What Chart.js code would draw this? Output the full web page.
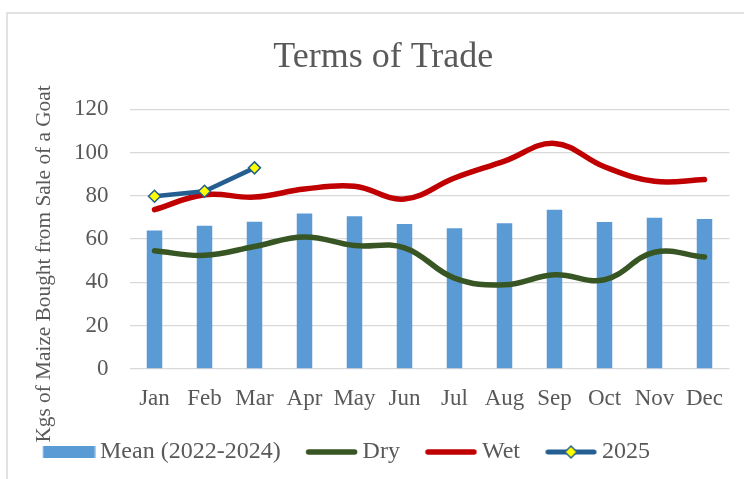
<!DOCTYPE html>
<html>
<head>
<meta charset="utf-8">
<script src="https://cdn.jsdelivr.net/npm/chart.js@4.4.1/dist/chart.umd.min.js"></script>
<style>
  html, body { margin: 0; padding: 0; background: #fff; }
  #wrap { width: 744px; height: 479px; }
</style>
</head>
<body>
<div id="wrap"><canvas id="tot" width="744" height="479"></canvas></div>
<script>
const months = ['Jan', 'Feb', 'Mar', 'Apr', 'May', 'Jun', 'Jul', 'Aug', 'Sep', 'Oct', 'Nov', 'Dec'];
const meanValues = [64, 66.2, 68, 71.8, 70.5, 67, 65, 67.3, 73.6, 67.9, 69.9, 69.3];
const dryValues = [54.6, 52.5, 56.6, 61, 57, 56, 42, 38.9, 43.5, 41.2, 53.9, 51.7];
const wetValues = [73.6, 80.5, 79.4, 83.1, 84.4, 78.5, 88.2, 96, 104.2, 93.4, 86.7, 87.5];
const values2025 = [79.8, 82.1, 92.9, null, null, null, null, null, null, null, null, null];
const yTicks = [0, 20, 40, 60, 80, 100, 120];

const COLORS = {
    mean: '#5B9BD5',
    dry: '#375623',
    wet: '#C00000',
    y2025: '#255E91',
    marker: '#FFFF00',
    grid: '#D9D9D9',
    text: '#595959',
};
const FONT = "'Liberation Serif', 'Times New Roman', serif";

// legend symbols as little canvases (symbol sits in the right part of the image)
function legendSymbol(kind, color) {
    const c = document.createElement('canvas');
    c.width = 70;
    c.height = 16;
    const g = c.getContext('2d');
    const x0 = 17.5, x1 = 69.5, cy = 8;
    if (kind === 'box') {
        g.fillStyle = color;
        g.fillRect(x0, cy - 6, x1 - x0, 12);
    } else {
        g.strokeStyle = color;
        g.lineCap = 'round';
        g.lineWidth = kind === 'marker' ? 5 : 5.5;
        g.beginPath();
        g.moveTo(x0 + 3, cy);
        g.lineTo(x1 - 3, cy);
        g.stroke();
        if (kind === 'marker') {
            const mx = (x0 + x1) / 2, r = 6;
            g.beginPath();
            g.moveTo(mx - r, cy);
            g.lineTo(mx, cy - r);
            g.lineTo(mx + r, cy);
            g.lineTo(mx, cy + r);
            g.closePath();
            g.fillStyle = COLORS.marker;
            g.fill();
            g.lineWidth = 1.5;
            g.stroke();
        }
    }
    return c;
}

const legendItems = [
    { text: 'Mean (2022-2024)', symbol: legendSymbol('box', COLORS.mean), datasetIndex: 0 },
    { text: 'Dry', symbol: legendSymbol('line', COLORS.dry), datasetIndex: 1 },
    { text: 'Wet', symbol: legendSymbol('line', COLORS.wet), datasetIndex: 2 },
    { text: '2025', symbol: legendSymbol('marker', COLORS.y2025), datasetIndex: 3 },
];

const framePlugin = {
    id: 'frame',
    beforeDraw(chart) {
        const ctx = chart.ctx;
        ctx.save();
        ctx.strokeStyle = COLORS.grid;
        ctx.lineWidth = 1.5;
        ctx.strokeRect(7, 13, 900, 700);
        ctx.restore();
    },
};

const yTitlePlugin = {
    id: 'yTitle',
    afterDraw(chart) {
        const ctx = chart.ctx;
        ctx.save();
        ctx.translate(44, 264);
        ctx.rotate(-Math.PI / 2);
        ctx.font = '21.3px ' + FONT;
        ctx.fillStyle = COLORS.text;
        ctx.textAlign = 'center';
        ctx.textBaseline = 'middle';
        ctx.fillText('Kgs of Maize Bought from Sale of a Goat', 0, 0);
        ctx.restore();
    },
};

const legendShift = {
    id: 'legendShift',
    afterLayout(chart) {
        if (chart.legend) {
            chart.legend.left -= 19;
            chart.legend.right -= 19;
        }
    },
};

new Chart(document.getElementById('tot').getContext('2d'), {
    type: 'bar',
    data: {
        labels: months,
        datasets: [
            {
                type: 'bar',
                label: 'Mean (2022-2024)',
                data: meanValues,
                backgroundColor: COLORS.mean,
                borderWidth: 0,
                barPercentage: 0.31,
                categoryPercentage: 1,
                order: 4,
            },
            {
                type: 'line',
                label: 'Dry',
                data: dryValues,
                borderColor: COLORS.dry,
                borderWidth: 5.5,
                borderCapStyle: 'round',
                tension: 0.4,
                pointRadius: 0,
                fill: false,
                order: 3,
            },
            {
                type: 'line',
                label: 'Wet',
                data: wetValues,
                borderColor: COLORS.wet,
                borderWidth: 5.5,
                borderCapStyle: 'round',
                tension: 0.4,
                pointRadius: 0,
                fill: false,
                order: 2,
            },
            {
                type: 'line',
                label: '2025',
                data: values2025,
                borderColor: COLORS.y2025,
                borderWidth: 4.5,
                borderCapStyle: 'round',
                tension: 0,
                pointStyle: 'rectRot',
                pointRadius: 6,
                pointBackgroundColor: COLORS.marker,
                pointBorderColor: COLORS.y2025,
                pointBorderWidth: 1.5,
                fill: false,
                spanGaps: false,
                order: 1,
            },
        ],
    },
    options: {
        responsive: false,
        animation: false,
        layout: { padding: { left: 37, right: 14.5, top: 0, bottom: 5 } },
        plugins: {
            tooltip: { enabled: false },
            title: {
                display: true,
                text: 'Terms of Trade',
                color: COLORS.text,
                font: { family: FONT, size: 36, weight: 'normal' },
                padding: { top: 36, bottom: 30 },
            },
            legend: {
                position: 'bottom',
                align: 'start',
                labels: {
                    usePointStyle: true,
                    pointStyleWidth: 55,
                    padding: 15,
                    color: COLORS.text,
                    font: { family: FONT, size: 24 },
                    generateLabels: () => legendItems.map((it) => ({
                        text: it.text,
                        pointStyle: it.symbol,
                        fillStyle: 'transparent',
                        strokeStyle: 'transparent',
                        lineWidth: 0,
                        hidden: false,
                        fontColor: COLORS.text,
                        datasetIndex: it.datasetIndex,
                    })),
                },
            },
        },
        scales: {
            x: {
                offset: true,
                grid: { display: false, drawTicks: false },
                border: { display: false },
                ticks: {
                    color: COLORS.text,
                    font: { family: FONT, size: 23 },
                    padding: 16,
                    maxRotation: 0,
                },
                afterFit: (scale) => { scale.height = 56; },
            },
            y: {
                min: 0,
                max: 120,
                afterBuildTicks: (scale) => { scale.ticks = yTicks.map((v) => ({ value: v })); },
                grid: { color: COLORS.grid, lineWidth: 1.3, drawTicks: false },
                border: { display: false },
                ticks: {
                    color: COLORS.text,
                    font: { family: FONT, size: 23 },
                    padding: 21,
                },
                afterFit: (scale) => { scale.width = 92.5; },
            },
        },
    },
    plugins: [framePlugin, yTitlePlugin, legendShift],
});
</script>
</body>
</html>
